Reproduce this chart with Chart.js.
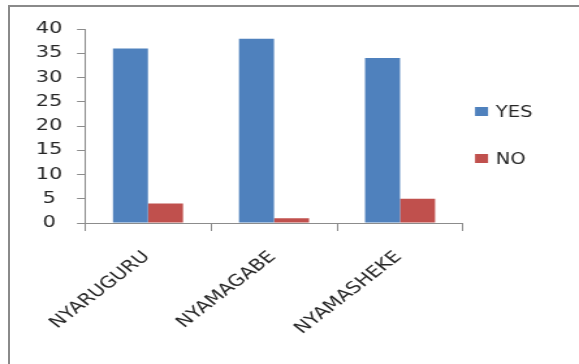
<!DOCTYPE html>
<html>
<head>
<meta charset="utf-8">
<script src="https://cdn.jsdelivr.net/npm/chart.js@4/dist/chart.umd.min.js"></script>
<style>
  html, body { margin: 0; padding: 0; background: #ffffff; overflow: hidden; }
  #wrap { position: relative; width: 579px; height: 364px; overflow: hidden; }
  .edge { position: absolute; background: #8a8a8a; pointer-events: none; }
  #edgeTop { left: 8px; top: 5px; width: 571px; height: 2px; }
  #edgeLeft { left: 8px; top: 5px; width: 2px; height: 359px; }
  /* the chart is laid out on a narrower canvas and widened to the page */
  #chart { position: absolute; left: 0; top: 0; transform-origin: 0 0; transform: scaleX(1.3011); }
</style>
</head>
<body>
<div id="wrap">
  <canvas id="chart" width="445" height="364"></canvas>
  <div class="edge" id="edgeTop"></div>
  <div class="edge" id="edgeLeft"></div>
</div>
<script>
// Districts and survey answers
const districts = ['NYARUGURU', 'NYAMAGABE', 'NYAMASHEKE'];
const yesCounts = [36, 38, 34];
const noCounts = [4, 1, 5];
const yTicks = [0, 5, 10, 15, 20, 25, 30, 35, 40];

const FONT = 'DejaVu Sans';
const INK = '#262626';
const AXIS = '#8c8c8c';

// Legend drawn to the right of the plot, one box + label per dataset
const sideLegend = {
  id: 'sideLegend',
  afterDraw(chart) {
    const { ctx, chartArea } = chart;
    const x = chartArea.right + 9.2;
    const rows = [chartArea.top + 83, chartArea.top + 130];
    ctx.save();
    ctx.font = '15px "' + FONT + '"';
    ctx.textBaseline = 'middle';
    ctx.textAlign = 'left';
    chart.data.datasets.forEach((ds, i) => {
      const cy = rows[i];
      ctx.fillStyle = ds.backgroundColor;
      ctx.fillRect(x, cy - 5, 10, 9);
      ctx.fillStyle = INK;
      ctx.fillText(ds.label, x + 16, cy + 1);
    });
    ctx.restore();
  }
};

new Chart(document.getElementById('chart'), {
  type: 'bar',
  data: {
    labels: districts,
    datasets: [
      { label: 'YES', data: yesCounts, backgroundColor: '#4F81BD' },
      { label: 'NO', data: noCounts, backgroundColor: '#C0504D' }
    ]
  },
  options: {
    responsive: false,
    animation: false,
    devicePixelRatio: 1,
    layout: { padding: { left: 7.5, right: 89.1, top: 29, bottom: 0 } },
    plugins: { legend: { display: false }, tooltip: { enabled: false } },
    datasets: { bar: { barPercentage: 1.0, categoryPercentage: 0.556 } },
    scales: {
      x: {
        afterFit(scale) { scale.height = 141; },
        grid: { display: true, drawOnChartArea: false, drawTicks: true, tickLength: 8, color: AXIS, offset: true },
        border: { display: true, color: AXIS, width: 1 },
        ticks: {
          color: INK, font: { family: FONT, size: 16 },
          minRotation: 45, maxRotation: 45, autoSkip: false,
          padding: 16.5, labelOffset: -1
        }
      },
      y: {
        min: 0, max: 40,
        afterFit(scale) { scale.width = 57.8; },
        afterBuildTicks(scale) { scale.ticks = yTicks.map(v => ({ value: v })); },
        grid: { display: true, drawOnChartArea: false, drawTicks: true, tickLength: 6.1, color: AXIS },
        border: { display: true, color: AXIS, width: 1 },
        ticks: { color: INK, font: { family: FONT, size: 16 }, padding: 11.3, crossAlign: 'center' }
      }
    }
  },
  plugins: [sideLegend]
});
</script>
</body>
</html>
